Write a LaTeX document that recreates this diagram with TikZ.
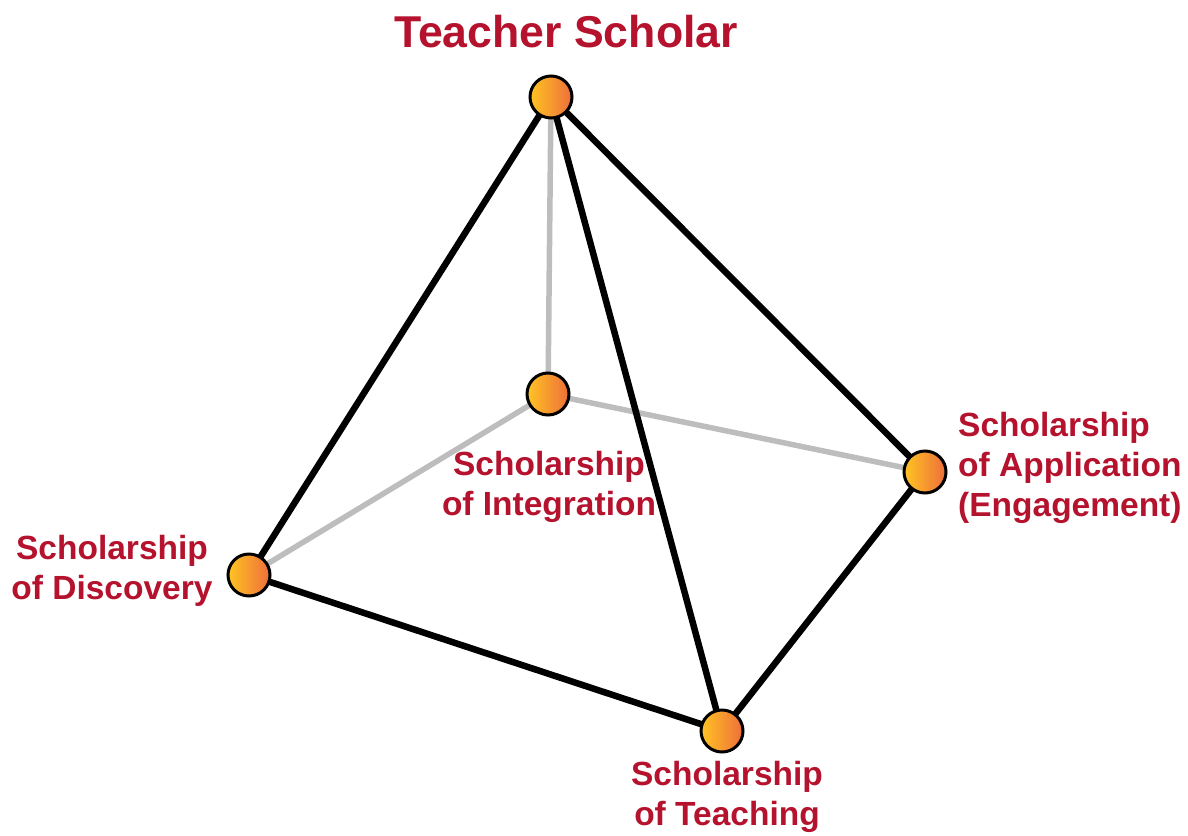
\documentclass[tikz,border=0pt]{standalone}
\usepackage{fontspec}
\setmainfont{Liberation Sans}
\definecolor{lbl}{HTML}{B5122E}
\definecolor{ballL}{HTML}{FFC423}
\definecolor{ballR}{HTML}{EE6E3A}
\definecolor{hid}{HTML}{BDBDBD}
\begin{document}
\begin{tikzpicture}[x=1pt,y=-1pt,
  ball/.style={circle,draw=black,line width=3pt,minimum size=42pt,inner sep=0pt,left color=ballL,right color=ballR},
  edge/.style={line width=6.5pt,black},
  back/.style={line width=5.5pt,hid},
  lab/.style={text=lbl,font=\fontsize{33.5}{40}\selectfont\bfseries,inner sep=0pt}]
\useasboundingbox (0,0) rectangle (1188,835);
\coordinate (T) at (551,97);
\coordinate (I) at (548,394);
\coordinate (A) at (925,472);
\coordinate (D) at (249,575);
\coordinate (E) at (722,731);
% hidden edges
\draw[back] (T) -- (I);
\draw[back] (I) -- (D);
\draw[back] (I) -- (A);
% visible edges
\draw[edge] (T) -- (D);
\draw[edge] (T) -- (A);
\draw[edge] (T) -- (E);
\draw[edge] (D) -- (E);
\draw[edge] (E) -- (A);
% balls
\node[ball] (nT) at (T) {};
\node[ball] (nI) at (I) {};
\node[ball] (nA) at (A) {};
\node[ball] (nD) at (D) {};
\node[ball] (nE) at (E) {};
% labels
\node[lab,font=\fontsize{44.6}{50}\selectfont\bfseries] (tT) at (566,32) {Teacher Scholar};
\node[lab,align=center] (tI) at (549,487) {Scholarship\\of Integration};
\node[lab,align=left,anchor=west] (tA) at (958,468) {Scholarship\\of Application\\(Engagement)};
\node[lab,align=center] (tD) at (112,571) {Scholarship\\of Discovery};
\node[lab,align=center] (tE) at (727,797) {Scholarship\\of Teaching};
\end{tikzpicture}
\end{document}
